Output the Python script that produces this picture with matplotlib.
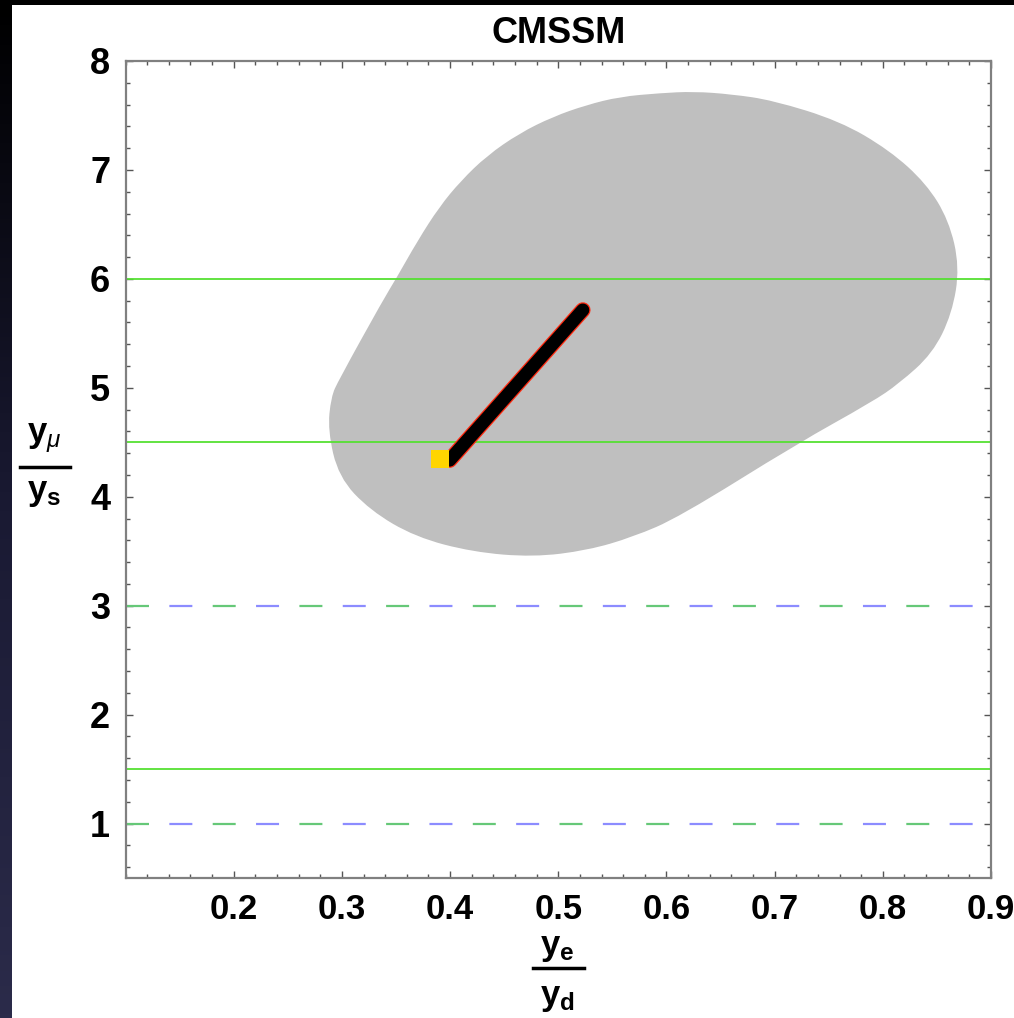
import numpy as np
import matplotlib
matplotlib.use('Agg')
import matplotlib.pyplot as plt
from matplotlib.path import Path
from matplotlib.patches import PathPatch, Rectangle
import matplotlib.patheffects as pe
from matplotlib.ticker import MultipleLocator

plt.rcParams['font.family'] = ['Liberation Sans', 'DejaVu Sans']
plt.rcParams['mathtext.fontset'] = 'custom'
plt.rcParams['mathtext.bf'] = 'Liberation Sans:bold'
plt.rcParams['mathtext.it'] = 'Liberation Sans:italic'
plt.rcParams['mathtext.rm'] = 'Liberation Sans:bold'
plt.rcParams['lines.scale_dashes'] = False

# allowed region outline (clockwise from the top)
blob_x = [0.594, 0.625, 0.660, 0.698, 0.760, 0.806, 0.840, 0.861, 0.871, 0.864,
          0.846, 0.815, 0.790, 0.721, 0.612, 0.569, 0.527, 0.477, 0.421, 0.368,
          0.326, 0.297, 0.287, 0.290, 0.297, 0.338, 0.350, 0.370, 0.390, 0.410,
          0.434, 0.464, 0.495, 0.526, 0.557]
blob_y = [7.705, 7.720, 7.695, 7.640, 7.450, 7.182, 6.877, 6.539, 6.110, 5.682,
          5.315, 5.039, 4.870, 4.488, 3.814, 3.630, 3.508, 3.446, 3.492, 3.630,
          3.875, 4.181, 4.610, 4.916, 5.070, 5.805, 6.000, 6.350, 6.660, 6.900,
          7.130, 7.336, 7.488, 7.596, 7.672]

# black band
band_x = [0.3996, 0.5227]
band_y = [4.336, 5.714]

# yellow point
pt_x = [0.3906]
pt_y = [4.348]

solid_levels = [6.0, 4.5, 1.5]
dashed_levels = [3.0, 1.0]

xticks = [0.2, 0.3, 0.4, 0.5, 0.6, 0.7, 0.8, 0.9]
yticks = [1, 2, 3, 4, 5, 6, 7, 8]

W, H = 1014, 1018
fig = plt.figure(figsize=(W / 100, H / 100), dpi=100)
fig.patch.set_facecolor('black')


def fp(x, y):
    return (x / W, 1 - y / H)


# white panel + dark strip on the left
fig.patches.append(Rectangle(fp(12, H), (W - 12) / W, (H - 5) / H,
                             transform=fig.transFigure, facecolor='white',
                             edgecolor='none', zorder=-5))
sax = fig.add_axes([0, 0, 12 / W, 1 - 5 / H])
grad = np.linspace(0, 1, 256).reshape(-1, 1)
sax.imshow(grad, aspect='auto', cmap=matplotlib.colors.LinearSegmentedColormap.from_list(
    'strip', ['#000000', '#1a1a33', '#2b2b4a']), extent=[0, 1, 0, 1])
sax.axis('off')

l, b = fp(125.5, 878)
r, t = fp(991, 61)
ax = fig.add_axes([l, b, r - l, t - b])
ax.set_xlim(0.1, 0.9)
ax.set_ylim(0.5, 8)

# smooth closed outline through quadratic segments
pts = np.column_stack([blob_x, blob_y])
n = len(pts)
mids = (pts + np.roll(pts, -1, axis=0)) / 2
verts = [mids[-1]]
codes = [Path.MOVETO]
for i in range(n):
    verts += [pts[i], mids[i]]
    codes += [Path.CURVE3, Path.CURVE3]
verts.append(mids[-1])
codes.append(Path.CLOSEPOLY)
ax.add_patch(PathPatch(Path(verts, codes), facecolor='#bfbfbf',
                       edgecolor='none', zorder=1))

for yv in solid_levels:
    ax.axhline(yv, color='#55e033', lw=1.3, zorder=2)

on, per = 23 * 0.72, 86.7 * 0.72
for yv in dashed_levels:
    ax.axhline(yv, color='#66c878', lw=1.6, zorder=2,
               linestyle=(0, (on, per - on)))
    ax.axhline(yv, color='#8c8cff', lw=1.6, zorder=2,
               linestyle=(per / 2, (on, per - on)))

ax.plot(band_x, band_y, color='black', lw=9.4, solid_capstyle='round', zorder=3,
        path_effects=[pe.Stroke(linewidth=11.2, foreground='#ff2a10'), pe.Normal()])
ax.plot(pt_x, pt_y, 's', color='#ffd500', markersize=13, markeredgewidth=0, zorder=4)

ax.set_xticks(xticks)
ax.set_yticks(yticks)
ax.set_xticklabels([f'{v:.1f}' for v in xticks])
ax.set_yticklabels([str(v) for v in yticks])
ax.xaxis.set_minor_locator(MultipleLocator(0.02))
ax.yaxis.set_minor_locator(MultipleLocator(0.2))
ax.tick_params(which='both', direction='in', top=True, right=True,
               color='#555555', width=1)
ax.tick_params(which='major', length=5)
ax.tick_params(which='minor', length=3)
ax.tick_params(axis='x', which='major', pad=11, labelsize=25)
ax.tick_params(axis='y', which='major', pad=11, labelsize=26)
for lab in ax.get_xticklabels() + ax.get_yticklabels():
    lab.set_fontweight('bold')
for s in ax.spines.values():
    s.set_color('#808080')
    s.set_linewidth(1.6)

ax.set_title('CMSSM', fontsize=26, fontweight='bold', pad=13)

# fraction labels
fig.text(*fp(44, 442), r'$\mathbf{y}_{\mu}$', fontsize=25, ha='center', va='baseline')
fig.text(*fp(44, 500), r'$\mathbf{y}_{\mathbf{s}}$', fontsize=25, ha='center', va='baseline')
fig.add_artist(plt.Line2D([20 / W, 70 / W], [1 - 467 / H] * 2, color='black', lw=2.5,
                          transform=fig.transFigure))

fig.text(*fp(557, 955), r'$\mathbf{y}_{\mathbf{e}}$', fontsize=25, ha='center', va='baseline')
fig.text(*fp(557, 1005), r'$\mathbf{y}_{\mathbf{d}}$', fontsize=25, ha='center', va='baseline')
fig.add_artist(plt.Line2D([533 / W, 584 / W], [1 - 968 / H] * 2, color='black', lw=2.5,
                          transform=fig.transFigure))

fig.savefig('out.png', dpi=100, facecolor=fig.get_facecolor())
